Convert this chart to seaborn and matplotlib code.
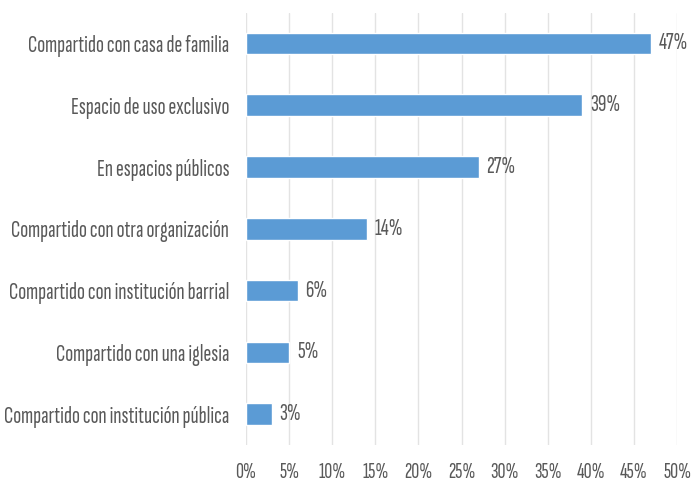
import matplotlib
matplotlib.use("Agg")
import matplotlib.pyplot as plt
import seaborn as sns
import pandas as pd

categories = [
    "Compartido con casa de familia",
    "Espacio de uso exclusivo",
    "En espacios públicos",
    "Compartido con otra organización",
    "Compartido con institución barrial",
    "Compartido con una iglesia",
    "Compartido con institución pública",
]
values = [47, 39, 27, 14, 6, 5, 3]
tick_values = [0, 5, 10, 15, 20, 25, 30, 35, 40, 45, 50]
tick_labels = [f"{v}%" for v in tick_values]

df = pd.DataFrame({"cat": categories, "val": values})

sns.set_theme(style="white")
plt.rcParams["font.family"] = ["Sofia Sans Extra Condensed", "DejaVu Sans"]

text_color = "#595959"
label_size = 17
tick_size = 16
fig = plt.figure(figsize=(6.91, 4.84), dpi=100)
ax = fig.add_axes([0.356, 0.0806, 0.624, 0.8934])

sns.barplot(data=df, x="val", y="cat", color="#5B9BD5", width=0.35,
            saturation=1, ax=ax, zorder=3)

ax.set_xlim(0, 50)
ax.set_xticks(tick_values)
ax.set_xticklabels(tick_labels)
ax.set_xlabel("")
ax.set_ylabel("")
ax.grid(axis="x", color="#e3e3e3", linewidth=1, zorder=0)
ax.grid(axis="y", visible=False)
for s in ax.spines.values():
    s.set_visible(False)
ax.tick_params(axis="x", length=0, labelsize=tick_size, labelcolor=text_color, pad=13)
ax.tick_params(axis="y", length=0, labelsize=label_size, labelcolor=text_color, pad=12)

for i, v in enumerate(values):
    ax.text(v + 0.9, i, f"{v}%", va="center", ha="left",
            fontsize=label_size, color=text_color)

fig.savefig("out.png", dpi=100)
